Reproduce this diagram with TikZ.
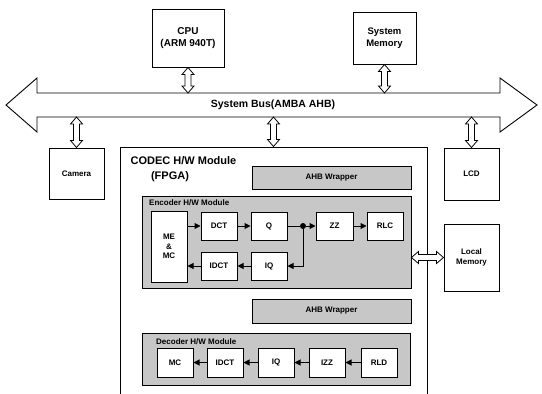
\documentclass[tikz,border=0pt]{standalone}
\usepackage{fontspec}
\setmainfont{Liberation Sans}
\usetikzlibrary{arrows.meta,calc}
\newcommand\hollowV[2]{%
  \draw[hollow] let \p1=(#1), \p2=(#2) in
   (\x1,\y1) -- (\x1+6pt,\y1-7pt) -- (\x1+3pt,\y1-7pt) -- (\x1+3pt,\y2+7pt) -- (\x1+6pt,\y2+7pt) -- (\x1,\y2)
   -- (\x1-6pt,\y2+7pt) -- (\x1-3pt,\y2+7pt) -- (\x1-3pt,\y1-7pt) -- (\x1-6pt,\y1-7pt) -- cycle;}
\newcommand\hollowH[2]{%
  \draw[hollow] let \p1=(#1), \p2=(#2) in
   (\x1,\y2) -- (\x1+7pt,\y2+6pt) -- (\x1+7pt,\y2+3pt) -- (\x2-7pt,\y2+3pt) -- (\x2-7pt,\y2+6pt) -- (\x2,\y2)
   -- (\x2-7pt,\y2-6pt) -- (\x2-7pt,\y2-3pt) -- (\x1+7pt,\y2-3pt) -- (\x1+7pt,\y2-6pt) -- cycle;}
\begin{document}
\begin{tikzpicture}[x=1pt,y=-1pt,
  hollow/.style={draw, fill=white, line width=0.8pt, line join=miter},
  box/.style={draw, line width=1pt, fill=white, align=center, inner sep=0pt,
    font=\bfseries\fontsize{8}{9.5}\selectfont},
  bigbox/.style={box, font=\bfseries\fontsize{10}{12}\selectfont},
  shade/.style={draw, line width=0.9pt, fill=black!22, inner sep=0pt},
  small/.style={font=\bfseries\fontsize{8}{9.5}\selectfont, inner sep=0pt},
  flow/.style={-{Triangle[length=6pt,width=6pt]}, line width=1pt}]
\useasboundingbox (0,0) rectangle (542,394);
\clip (0,0) rectangle (542,394);

% system bus
\draw[line width=0.9pt, fill=white, line join=miter]
  (6,105) -- (37,78) -- (37,93) -- (500,93) -- (500,78) -- (537,105)
  -- (500,132) -- (500,117) -- (37,117) -- (37,132) -- cycle;
\coordinate (busT) at (0,93);
\coordinate (busB) at (0,117);
\node[font=\bfseries\fontsize{10.5}{12}\selectfont, inner sep=0pt] (bus) at (273,105) {System Bus(AMBA AHB)};

% top units
\node[bigbox, minimum width=72, minimum height=58] (cpu) at (188,38) {CPU\\(ARM 940T)};
\node[bigbox, minimum width=63, minimum height=52, font=\bfseries\fontsize{9.5}{11.5}\selectfont] (smem) at (384.5,38) {System\\Memory};

% bottom units
\node[box, minimum width=55, minimum height=51] (cam) at (76.5,173.5) {Camera};
\node[box, minimum width=55, minimum height=52] (lcd) at (471.5,174) {LCD};
\node[box, minimum width=55, minimum height=67] (lmem) at (471.5,257.5) {Local\\Memory};
\node[draw, line width=1pt, minimum width=307, minimum height=273, inner sep=0pt] (codec) at (273.5,283.5) {};
\node[font=\bfseries\fontsize{11}{13}\selectfont, inner sep=0pt] (codecT) at (183.5,161) {CODEC H/W Module};
\node[font=\bfseries\fontsize{11}{13}\selectfont, inner sep=0pt] (fpga) at (170,177) {(FPGA)};

% bus connectors
\hollowV{cpu.south}{cpu.south |- busT}
\hollowV{smem.south}{smem.south |- busT}
\hollowV{cam.north |- busB}{cam.north}
\hollowV{codec.north |- busB}{codec.north}
\hollowV{lcd.north |- busB}{lcd.north}

% AHB wrappers
\node[shade, minimum width=159, minimum height=23, small] (ahb1) at (331.5,177.5) {AHB Wrapper};
\node[shade, minimum width=159, minimum height=24, small] (ahb2) at (331.5,311) {AHB Wrapper};

% encoder
\node[shade, minimum width=269, minimum height=92] (enc) at (276.5,242) {};
\node[small, anchor=west] (encT) at (149,203) {Encoder H/W Module};
\node[box, minimum width=36, minimum height=71] (me) at (169,246.5) {ME\\\&\\MC};
\node[box, minimum width=36, minimum height=28] (dct) at (219,226) {DCT};
\node[box, minimum width=36, minimum height=28] (q) at (269,226) {Q};
\node[box, minimum width=37, minimum height=28] (zz) at (334.5,226) {ZZ};
\node[box, minimum width=36, minimum height=28] (rlc) at (385,226) {RLC};
\node[box, minimum width=36, minimum height=28] (idct) at (219,266) {IDCT};
\node[box, minimum width=36, minimum height=28] (iq) at (269,266) {IQ};
\node[circle, fill=black, inner sep=0pt, minimum size=6pt] (dot) at (303,226) {};
\draw[flow] (me.east |- dct) -- (dct);
\draw[flow] (dct) -- (q);
\draw[line width=1pt] (q) -- (dot);
\draw[flow] (dot) -- (zz);
\draw[flow] (zz) -- (rlc);
\draw[flow] (dot) |- (iq);
\draw[flow] (iq) -- (idct);
\draw[flow] (idct) -- (me.east |- idct);

\hollowH{enc.east}{lmem.west}

% decoder
\node[shade, minimum width=268, minimum height=52] (dec) at (276,359) {};
\node[small, anchor=west] (decT) at (156,342) {Decoder H/W Module};
\node[box, minimum width=36, minimum height=29] (mc) at (175,362.5) {MC};
\node[box, minimum width=36, minimum height=29] (didct) at (225,362.5) {IDCT};
\node[box, minimum width=36, minimum height=29] (diq) at (276,362.5) {IQ};
\node[box, minimum width=36, minimum height=29] (izz) at (327,362.5) {IZZ};
\node[box, minimum width=36, minimum height=29] (rld) at (379,362.5) {RLD};
\draw[flow] (rld) -- (izz);
\draw[flow] (izz) -- (diq);
\draw[flow] (diq) -- (didct);
\draw[flow] (didct) -- (mc);
\end{tikzpicture}
\end{document}
